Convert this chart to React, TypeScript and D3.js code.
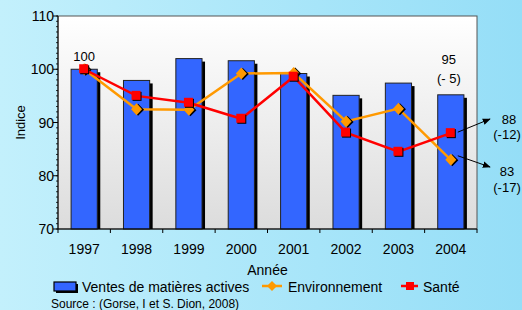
import * as d3 from 'd3';

const years = ['1997', '1998', '1999', '2000', '2001', '2002', '2003', '2004'];
const ventes = [100, 97.9, 102, 101.6, 99.2, 95.1, 97.4, 95.2];
const environnement = [100, 92.5, 92.4, 99.2, 99.3, 90.2, 92.6, 83];
const sante = [100, 95, 93.7, 90.7, 98.6, 88.1, 84.5, 88];
const yTicks = [70, 80, 90, 100, 110];

const W = 522;
const H = 310;
const m = { left: 58, right: 477, top: 16, bottom: 229 };
const font = 'Liberation Sans, Arial, sans-serif';

const App = () => {
  const x = d3.scaleBand().domain(years).range([m.left, m.right]).paddingInner(0.5).paddingOuter(0.25);
  const y = d3.scaleLinear().domain([70, 110]).range([m.bottom, m.top]);
  const cx = (i: number) => (x(years[i]) as number) + x.bandwidth() / 2;
  const line = d3.line<number>().x((_, i) => cx(i)).y((d) => y(d));
  const minor = d3.range(70, 111, 1);
  const bw = x.bandwidth();
  const step = x.step();

  return (
    <svg width={W} height={H} style={{ position: 'absolute', left: 0, top: 0 }} fontFamily={font}>
      <defs>
        <linearGradient id='bg' x1='0' x2='1' y1='0' y2='0'>
          <stop offset='0' stopColor='#c3f0fc' />
          <stop offset='1' stopColor='#95def7' />
        </linearGradient>
        <linearGradient id='plot' x1='0' x2='0' y1='0' y2='1'>
          <stop offset='0' stopColor='#ffffff' />
          <stop offset='1' stopColor='#dcdcdc' />
        </linearGradient>
        <marker id='arr' viewBox='0 0 10 10' refX='9' refY='5' markerWidth='8' markerHeight='8' orient='auto'>
          <path d='M0,1 L10,5 L0,9 z' fill='#000' />
        </marker>
      </defs>
      <rect width={W} height={H} fill='url(#bg)' />
      <rect x={m.left} y={m.top} width={m.right - m.left} height={m.bottom - m.top} fill='url(#plot)' stroke='#555' strokeWidth={1} />

      {/* bars */}
      {ventes.map((v, i) => (
        <g key={i}>
          <rect x={(x(years[i]) as number) + 3} y={y(v) + 3} width={bw} height={m.bottom - y(v) - 3} fill='#000' />
          <rect x={x(years[i])} y={y(v)} width={bw} height={m.bottom - y(v)} fill='#3366ff' stroke='#222' strokeWidth={1} />
        </g>
      ))}

      {/* y axis */}
      <line x1={m.left} x2={m.left} y1={m.top} y2={m.bottom} stroke='#000' />
      {minor.map((t) => (
        <line key={t} x1={m.left - 2} x2={m.left} y1={y(t)} y2={y(t)} stroke='#000' strokeWidth={0.8} />
      ))}
      {yTicks.map((t) => (
        <g key={t}>
          <line x1={m.left - 5} x2={m.left} y1={y(t)} y2={y(t)} stroke='#000' />
          <text x={m.left - 4} y={y(t) + 5} fontSize={14} textAnchor='end'>{t}</text>
        </g>
      ))}
      <text transform={`translate(25,${(m.top + m.bottom) / 2}) rotate(-90)`} fontSize={13} textAnchor='middle'>Indice</text>

      {/* x axis */}
      <line x1={m.left} x2={m.right} y1={m.bottom} y2={m.bottom} stroke='#000' />
      {d3.range(years.length + 1).map((i) => (
        <line key={i} x1={m.left + i * step} x2={m.left + i * step} y1={m.bottom} y2={m.bottom + 4} stroke='#000' />
      ))}
      {years.map((yr, i) => (
        <text key={yr} x={cx(i)} y={m.bottom + 25} fontSize={14} textAnchor='middle'>{yr}</text>
      ))}
      <text x={(m.left + m.right) / 2} y={275} fontSize={14} textAnchor='middle'>Année</text>

      {/* lines */}
      <path d={line(environnement) as string} fill='none' stroke='#ff9900' strokeWidth={2.5} />
      {environnement.map((v, i) => (
        <g key={i}>
          <path d={`M${cx(i) + 1.5},${y(v) - 5.5}l6,6l-6,6l-6,-6z`} fill='#000' />
          <path d={`M${cx(i)},${y(v) - 6}l5.5,6l-5.5,6l-5.5,-6z`} fill='#ff9900' />
        </g>
      ))}
      <path d={line(sante) as string} fill='none' stroke='#ff0000' strokeWidth={2.5} />
      {sante.map((v, i) => (
        <g key={i}>
          <rect x={cx(i) - 4} y={y(v) - 4} width={9} height={9} fill='#000' />
          <rect x={cx(i) - 5} y={y(v) - 5} width={9} height={9} fill='#ff0000' />
        </g>
      ))}

      {/* annotations */}
      <text x={cx(0)} y={y(100) - 8} fontSize={13} textAnchor='middle'>100</text>
      <text x={cx(7) - 2} y={y(ventes[7]) - 31} fontSize={13} textAnchor='middle'>95</text>
      <text x={cx(7) - 2} y={y(ventes[7]) - 12} fontSize={13} textAnchor='middle'>(- 5)</text>
      <line x1={cx(7) + 7} y1={y(sante[7]) - 1} x2={490} y2={119} stroke='#000' strokeWidth={1} markerEnd='url(#arr)' />
      <line x1={cx(7) + 7} y1={y(environnement[7]) - 4} x2={490} y2={167} stroke='#000' strokeWidth={1} markerEnd='url(#arr)' />
      <text x={509} y={124} fontSize={13} textAnchor='middle'>88</text>
      <text x={507} y={139} fontSize={13} textAnchor='middle'>(-12)</text>
      <text x={507} y={176} fontSize={13} textAnchor='middle'>83</text>
      <text x={507} y={192} fontSize={13} textAnchor='middle'>(-17)</text>

      {/* legend */}
      <rect x={56} y={284} width={22} height={9} fill='#000' />
      <rect x={54} y={282} width={22} height={9} fill='#3366ff' stroke='#000' strokeWidth={1.2} />
      <text x={82} y={292} fontSize={14}>Ventes de matières actives</text>
      <line x1={262} x2={282} y1={286} y2={286} stroke='#ff9900' strokeWidth={2.5} />
      <path d='M272,281l5,5l-5,5l-5,-5z' fill='#ff9900' />
      <text x={288} y={292} fontSize={14}>Environnement</text>
      <line x1={401} x2={418} y1={286} y2={286} stroke='#ff0000' strokeWidth={2.5} />
      <rect x={406} y={282} width={8} height={8} fill='#ff0000' />
      <text x={423} y={292} fontSize={14}>Santé</text>
      <text x={51} y={308} fontSize={12}>Source : (Gorse, I et S. Dion, 2008)</text>
    </svg>
  );
};

export default App;
